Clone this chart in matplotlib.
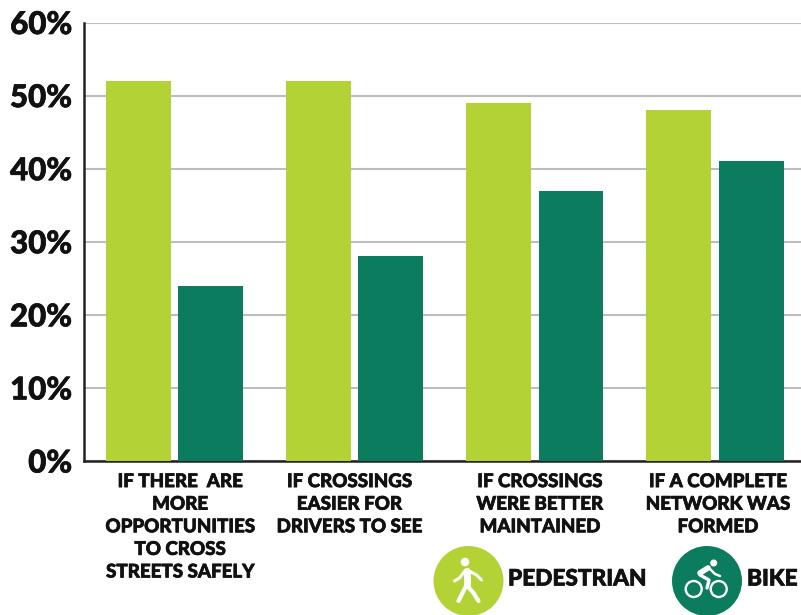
import numpy as np
import matplotlib
matplotlib.use("Agg")
import matplotlib.pyplot as plt
import matplotlib.patheffects as pe
from matplotlib.patches import Circle

W, H = 801, 615

categories = [
    "IF THERE  ARE\nMORE\nOPPORTUNITIES\nTO CROSS\nSTREETS SAFELY",
    "IF CROSSINGS\nEASIER FOR\nDRIVERS TO SEE",
    "IF CROSSINGS\nWERE BETTER\nMAINTAINED",
    "IF A COMPLETE\nNETWORK WAS\nFORMED",
]
pedestrian = [52, 52, 49, 48]
bike = [24, 28, 37, 41]
y_ticks = [0, 10, 20, 30, 40, 50, 60]
# the labels are not quite centred under their groups in the original
label_shift = [0.033, -0.028, 0.028, 0.017]

LIME = "#b2d235"
GREEN = "#0c7c5f"
INK = "#111111"
# the original lettering is a touch heavier than Lato Bold
heavy = [pe.withStroke(linewidth=0.5, foreground=INK)]

plt.rcParams["font.family"] = ["Lato", "DejaVu Sans"]

fig = plt.figure(figsize=(W / 100, H / 100), dpi=100)
ax = fig.add_axes([84 / W, 1 - 461 / H, (W - 84) / W, (461 - 22.5) / H])

x = np.arange(len(categories))
ax.bar(x - 0.2, pedestrian, 0.36, color=LIME, zorder=3)
ax.bar(x + 0.202, bike, 0.36, color=GREEN, zorder=3)

ax.set_xlim(-0.5, 3.478)
ax.set_ylim(0, 60)
ax.set_yticks(y_ticks)
ax.set_yticklabels([f"{v}%" for v in y_ticks], fontsize=22.5, fontweight="black", color=INK, path_effects=heavy)
ax.set_xticks(x + np.array(label_shift))
ax.set_xticklabels(categories, fontsize=13.5, fontweight="black", color=INK, linespacing=1.4, path_effects=heavy)
ax.tick_params(axis="both", length=0)
ax.tick_params(axis="y", pad=8.5)
ax.tick_params(axis="x", pad=8.7)
ax.grid(axis="y", color="#bdbdbd", linewidth=1.5, zorder=0)
ax.set_axisbelow(True)
for side in ["top", "right"]:
    ax.spines[side].set_visible(False)
for side in ["left", "bottom"]:
    ax.spines[side].set_linewidth(1.8)
    ax.spines[side].set_color("#222222")

# overlay in pixel coordinates for the legend badges
ov = fig.add_axes([0, 0, 1, 1], facecolor="none")
ov.set_xlim(0, W)
ov.set_ylim(H, 0)
ov.axis("off")


def stroke(cx, cy, pts, lw):
    xs = [cx + p[0] for p in pts]
    ys = [cy + p[1] for p in pts]
    ov.plot(xs, ys, lw=lw, color="white", solid_capstyle="round", solid_joinstyle="round")


def walker(cx, cy):
    ov.add_patch(Circle((cx, cy), 35, color=LIME, lw=0))
    ov.add_patch(Circle((cx - 3.5, cy - 19), 4.3, color="white", lw=0))
    stroke(cx, cy, [(-2, -10), (-2, 4)], 5.0)
    stroke(cx, cy, [(-2, 4), (-6, 12), (-10, 20)], 3.0)
    stroke(cx, cy, [(-2, 4), (5, 12), (10, 20)], 3.0)
    stroke(cx, cy, [(-3, -11), (-9, -3), (-14, 0)], 2.2)
    stroke(cx, cy, [(-1, -11), (8, -6), (13, -1)], 2.2)


def cyclist(cx, cy):
    ov.add_patch(Circle((cx, cy), 35, color=GREEN, lw=0))
    ov.add_patch(Circle((cx + 6.7, cy - 18), 3.5, color="white", lw=0))
    for dx in (-13.3, 11.7):
        ov.add_patch(Circle((cx + dx, cy + 8), 8, fill=False, ec="white", lw=1.7))
    stroke(cx, cy, [(-7, -8), (1, -13)], 4.0)
    stroke(cx, cy, [(2, -13), (8, -7), (13, -5)], 1.8)
    stroke(cx, cy, [(-7, -6), (2, -1), (0, 7)], 2.4)


walker(468.5, 581)
cyclist(707, 581)
ov.text(508, 579, "PEDESTRIAN", fontsize=16.3, fontweight="black", color=INK, ha="left", va="center", path_effects=heavy)
ov.text(747, 579, "BIKE", fontsize=16.3, fontweight="black", color=INK, ha="left", va="center", path_effects=heavy)

fig.savefig("out.png", dpi=100)
